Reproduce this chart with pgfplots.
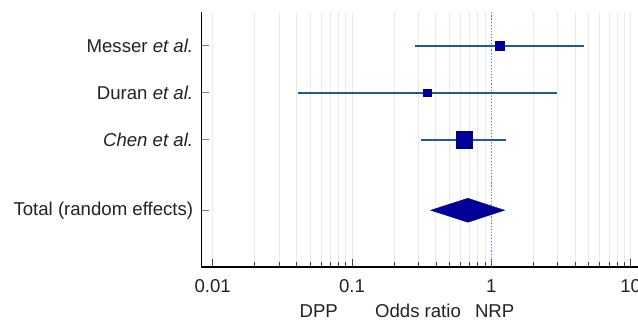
\documentclass[border=0pt]{standalone}
\usepackage{pgfplots}
\pgfplotsset{compat=1.18}
\usepackage{fontspec}
\setmainfont{Liberation Sans}
\definecolor{cicol}{HTML}{1F5AA0}
\definecolor{navy}{HTML}{000099}
\definecolor{gridc}{HTML}{EAEAEA}
\definecolor{txt}{HTML}{222222}
\definecolor{refl}{HTML}{4F7FC0}
\begin{document}
\begin{tikzpicture}
\path[use as bounding box] (-201.3bp,-57bp) rectangle (436.7bp,267bp);
\begin{axis}[
  at={(0,0)}, anchor=south west,
  scale only axis, width=436.7bp, height=255.3bp,
  xmode=log, xmin=0.00828, xmax=11.3,
  ymin=-0.706, ymax=4.72,
  axis x line*=bottom, axis y line*=left,
  axis line style={black, line width=1.4bp},
  xtick={0.01,0.1,1,10}, xticklabels={0.01,0.1,1,10},
  ytick={0.5,2,3,4},
  yticklabels={Total (random effects),\textit{Chen et al.},Duran \textit{et al.},Messer \textit{et al.}},
  tick align=inside,
  major tick length=8bp, minor tick length=5bp,
  xtick style={black!75, line width=0.7bp},
  ytick style={black!50, line width=1bp},
  xmajorgrids, xminorgrids,
  major grid style={gridc, line width=0.8bp},
  minor grid style={gridc, line width=0.8bp},
  ticklabel style={font=\fontsize{18.6bp}{21bp}\selectfont, text=txt},
  yticklabel style={anchor=east, inner sep=0pt, xshift=-8bp},
  xticklabel style={anchor=base, inner sep=0pt, yshift=-25.7bp},
  clip=false,
]
% reference line at 1
\addplot[refl, dotted, line width=1.1bp] coordinates {(1,-0.706) (1,4.72)};
% CIs
\addplot[cicol, line width=2bp] coordinates {(0.281,4) (4.60,4)};
\addplot[cicol, line width=2bp] coordinates {(0.0407,3) (2.94,3)};
\addplot[cicol, line width=2bp] coordinates {(0.314,2) (1.28,2)};
% point estimates
\addplot[only marks, mark=square*, mark size=4.5bp, navy, mark options={draw=navy, fill=navy}] coordinates {(1.15,4)};
\addplot[only marks, mark=square*, mark size=3.6bp, navy, mark options={draw=navy, fill=navy}] coordinates {(0.347,3)};
\addplot[only marks, mark=square*, mark size=8.2bp, navy, mark options={draw=navy, fill=navy}] coordinates {(0.636,2)};
% pooled diamond
\addplot[draw=navy, fill=navy] coordinates {(0.367,0.5) (0.679,0.755) (1.245,0.5) (0.679,0.245)} -- cycle;
\end{axis}
\begin{scope}[font=\fontsize{18.6bp}{21bp}\selectfont, text=txt]
\node[anchor=base, inner sep=0pt] at (117.4bp,-50.7bp) {DPP};
\node[anchor=base, inner sep=0pt] at (216.7bp,-50.7bp) {Odds ratio};
\node[anchor=base, inner sep=0pt] at (293.4bp,-50.7bp) {NRP};
\end{scope}
\end{tikzpicture}
\end{document}
